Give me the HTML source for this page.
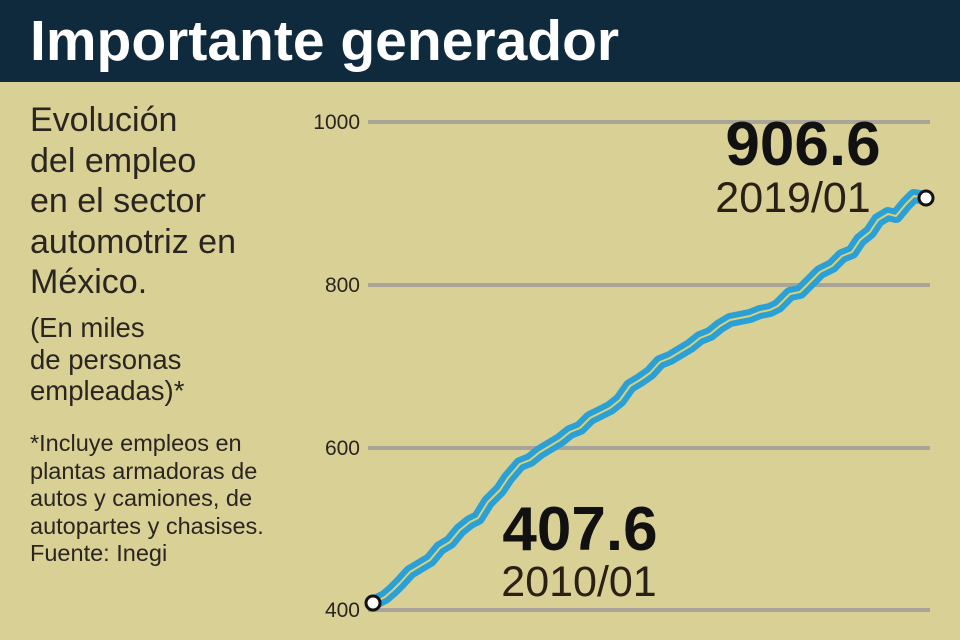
<!DOCTYPE html>
<html><head><meta charset="utf-8"><style>
body{margin:0;width:960px;height:640px;background:#d9d096;overflow:hidden;font-family:"Liberation Sans",sans-serif;position:relative}
.hd{position:absolute;left:0;top:0;width:960px;height:82px;background:#0f2a3d}
.hd div{position:absolute;left:30px;top:8px;color:#fff;font-weight:bold;font-size:57px;letter-spacing:0px}
.t{position:absolute;color:#2a2520}
</style></head><body>
<div class="hd"><div>Importante generador</div></div>
<div class="t" style="left:30px;top:100px;font-size:34px;line-height:40.5px">Evolución<br>del empleo<br>en el sector<br>automotriz en<br>México.</div>
<div class="t" style="left:30px;top:312px;font-size:27.5px;line-height:31.5px">(En miles<br>de personas<br>empleadas)*</div>
<div class="t" style="left:30px;top:430px;font-size:23.5px;line-height:27.5px">*Incluye empleos en<br>plantas armadoras de<br>autos y camiones, de<br>autopartes y chasises.<br>Fuente: Inegi</div>
<svg width="960" height="640" style="position:absolute;left:0;top:0">
<g stroke="#a8a49a" stroke-width="4">
<line x1="368" y1="122" x2="930" y2="122"/><line x1="368" y1="285" x2="930" y2="285"/>
<line x1="368" y1="448" x2="930" y2="448"/><line x1="368" y1="610" x2="930" y2="610"/></g>
<g font-size="21" fill="#2a2520" text-anchor="end">
<text x="360" y="129">1000</text><text x="360" y="292">800</text><text x="360" y="455">600</text><text x="360" y="617">400</text></g>
<polyline fill="none" stroke="#2aa0d6" stroke-width="14" stroke-linejoin="round" points="373,603 385,597 393,590 400,583 410,572 420,566 430,560 440,548 450,542 460,530 470,522 478,518 488,502 500,490 508,478 520,464 530,460 540,452 550,446 560,440 570,432 580,428 590,418 600,413 610,408 620,400 630,386 640,380 650,373 660,362 670,358 680,352 690,346 700,338 710,334 720,326 730,320 740,318 750,316 760,312 770,310 778,306 790,294 800,292 810,282 820,272 832,266 842,256 852,252 860,240 870,232 878,220 888,214 896,216 906,204 914,196 926,198"/>
<polyline fill="none" stroke="#d6d27a" stroke-width="2" stroke-linejoin="round" points="373,603 385,597 393,590 400,583 410,572 420,566 430,560 440,548 450,542 460,530 470,522 478,518 488,502 500,490 508,478 520,464 530,460 540,452 550,446 560,440 570,432 580,428 590,418 600,413 610,408 620,400 630,386 640,380 650,373 660,362 670,358 680,352 690,346 700,338 710,334 720,326 730,320 740,318 750,316 760,312 770,310 778,306 790,294 800,292 810,282 820,272 832,266 842,256 852,252 860,240 870,232 878,220 888,214 896,216 906,204 914,196 926,198"/>
<circle cx="373" cy="603" r="7" fill="#fff" stroke="#111" stroke-width="3"/>
<circle cx="926" cy="198" r="7" fill="#fff" stroke="#111" stroke-width="3"/>
<g fill="#111" text-anchor="middle">
<text x="580" y="550" font-size="62" font-weight="bold">407.6</text>
<text x="579" y="596" font-size="43" fill="#2a2015">2010/01</text>
<text x="803" y="165" font-size="62" font-weight="bold">906.6</text>
<text x="793" y="212" font-size="43" fill="#2a2015">2019/01</text></g>
</svg>
</body></html>
